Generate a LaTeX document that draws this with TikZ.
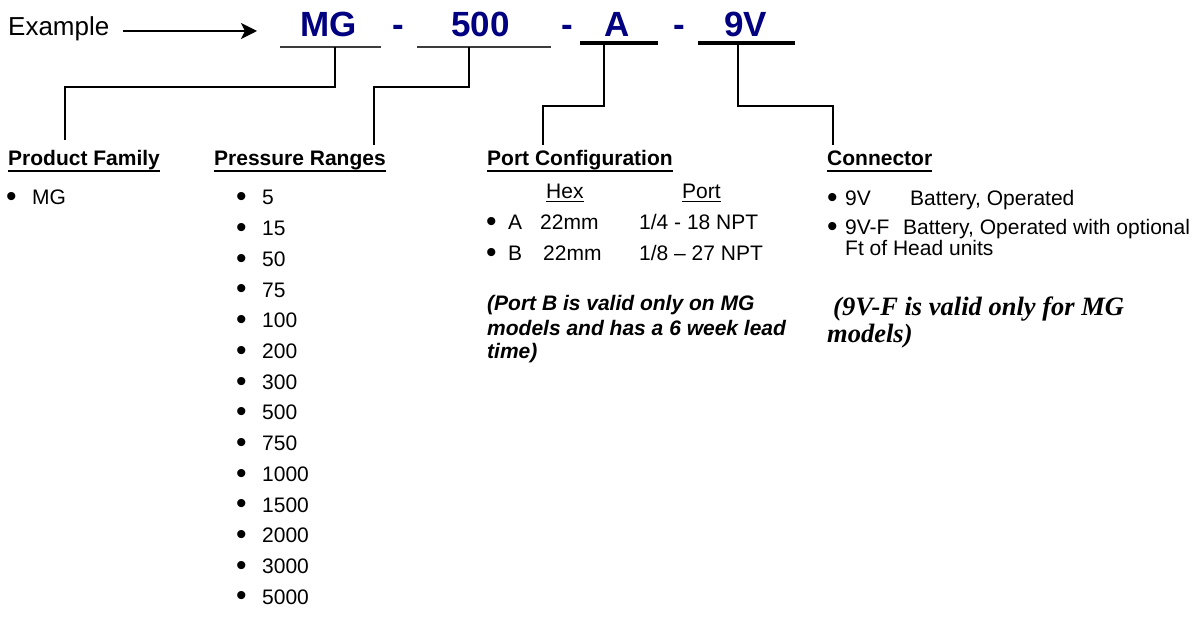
\documentclass[tikz,border=0pt]{standalone}
\usepackage{fontspec}
\setmainfont{Liberation Sans}
\newfontfamily\timesf{Liberation Serif}
\usetikzlibrary{arrows.meta}
\definecolor{navy}{RGB}{0,0,128}
\definecolor{ulgray}{RGB}{60,60,60}
\newcommand\ulheading[1]{\setbox0\hbox{#1}\rlap{\rule[-6pt]{\wd0}{2pt}}\box0}
\newcommand\ulthin[1]{\setbox0\hbox{#1}\rlap{\rule[-3.5pt]{\wd0}{1.3pt}}\box0}
\newcommand\bul{\raisebox{-1.8pt}{\fontsize{30}{30}\selectfont •}}
\tikzset{
  body/.style={anchor=base west, inner sep=0pt, font=\fontsize{21}{25}\selectfont},
  head/.style={anchor=base west, inner sep=0pt, font=\fontsize{21}{25}\selectfont\bfseries},
  exs/.style={anchor=base west, inner sep=0pt, font=\fontsize{26}{30}\selectfont},
  code/.style={anchor=base west, inner sep=0pt, text=navy, font=\fontsize{35}{40}\selectfont\bfseries},
  pnote/.style={anchor=base west, inner sep=0pt, font=\fontsize{21}{25}\selectfont\bfseries\itshape},
  snote/.style={anchor=base west, inner sep=0pt, font=\timesf\fontsize{26.5}{30}\selectfont\bfseries\itshape},
  conn/.style={line width=1.7pt, black},
  thinul/.style={line width=1.7pt, ulgray},
  thickul/.style={line width=4pt, black},
}
\begin{document}
\begin{tikzpicture}[x=1pt,y=-1pt]
\useasboundingbox (0,0) rectangle (1204,617);
\fill[white] (0,0) rectangle (1204,617);

% Example and arrow
\node[exs] (ex) at (8,36) {Example};
\coordinate (arrS) at (123,31);
\coordinate (arrE) at (257,31);
\draw[line width=2pt,-{Stealth[length=16pt,width=16pt,inset=4pt]}] (arrS) -- (arrE);

% model code
\node[code] (mg) at (300,37) {MG};
\node[code] (d1) at (392,37) {-};
\node[code] (n500) at (451,37) {500};
\node[code] (d2) at (561,37) {-};
\node[code] (a) at (604,37) {A};
\node[code] (d3) at (673,37) {-};
\node[code] (v9) at (724,37) {9V};

% underlines
\coordinate (u1a) at (280,47); \coordinate (u1b) at (381,47);
\coordinate (u2a) at (417,47); \coordinate (u2b) at (551,47);
\coordinate (u3a) at (580,43); \coordinate (u3b) at (658,43);
\coordinate (u4a) at (698,43); \coordinate (u4b) at (795,43);
\draw[thinul] (u1a) -- (u1b);
\draw[thinul] (u2a) -- (u2b);
\draw[thickul] (u3a) -- (u3b);
\draw[thickul] (u4a) -- (u4b);

% headings
\node[head] (pf) at (8,166) {\ulheading{Product Family}};
\node[head] (prh) at (214,166) {\ulheading{Pressure Ranges}};
\node[head] (pch) at (487,166) {\ulheading{Port Configuration}};
\node[head] (coh) at (827,166) {\ulheading{Connector}};

% connectors
\coordinate (tMG) at (335,47);  \coordinate (eMG) at (65,140);
\coordinate (t500) at (469,47); \coordinate (e500) at (374,145);
\coordinate (tA) at (604,45);   \coordinate (eA) at (543,145);
\coordinate (t9V) at (738,45);  \coordinate (e9V) at (833,145);
\draw[conn] (tMG) -- ++(0,40) -| (eMG);
\draw[conn] (t500) -- ++(0,40) -| (e500);
\draw[conn] (tA) -- ++(0,61) -| (eA);
\draw[conn] (t9V) -- ++(0,61) -| (e9V);

% product family
\node[body] (pfb) at (6,205) {\bul};
\node[body] (pfmg) at (32,205) {MG};

% pressure ranges
\foreach \v [count=\i from 0] in {5,15,50,75,100,200,300,500,750,1000,1500,2000,3000,5000} {
  \node[body] (pb\i) at (236,{205+30.7*\i}) {\bul};
  \node[body] (pv\i) at (262,{205+30.7*\i}) {\v};
}

% port configuration
\node[body] (hex) at (546,199) {\ulthin{Hex}};
\node[body] (porth) at (682,199) {\ulthin{Port}};
\node[body] (pab) at (486,229.5) {\bul};
\node[body] (pal) at (508,229.5) {A};
\node[body] (pahex) at (540,229.5) {22mm};
\node[body] (papt) at (639,229.5) {1/4 - 18 NPT};
\node[body] (pbb) at (486,260.5) {\bul};
\node[body] (pbl) at (508,260.5) {B};
\node[body] (pbhex) at (543,260.5) {22mm};
\node[body] (pbpt) at (639,260.5) {1/8 – 27 NPT};
\node[pnote] (pn1) at (487,311) {(Port B is valid only on MG};
\node[pnote] (pn2) at (487,335) {models and has a 6 week lead};
\node[pnote] (pn3) at (487,359) {time)};

% connector
\node[body] (cb1) at (827,205.5) {\bul};
\node[body] (c1a) at (845,205.5) {9V};
\node[body] (c1b) at (910,205.5) {Battery, Operated};
\node[body] (cb2) at (827,234.5) {\bul};
\node[body] (c2a) at (845,234.5) {9V-F};
\node[body] (c2b) at (903,234.5) {Battery, Operated with optional};
\node[body] (c3) at (845,256) {Ft of Head units};
\node[snote] (sn1) at (833,316) {(9V-F is valid only for MG};
\node[snote] (sn2) at (827,342) {models)};
\end{tikzpicture}
\end{document}
